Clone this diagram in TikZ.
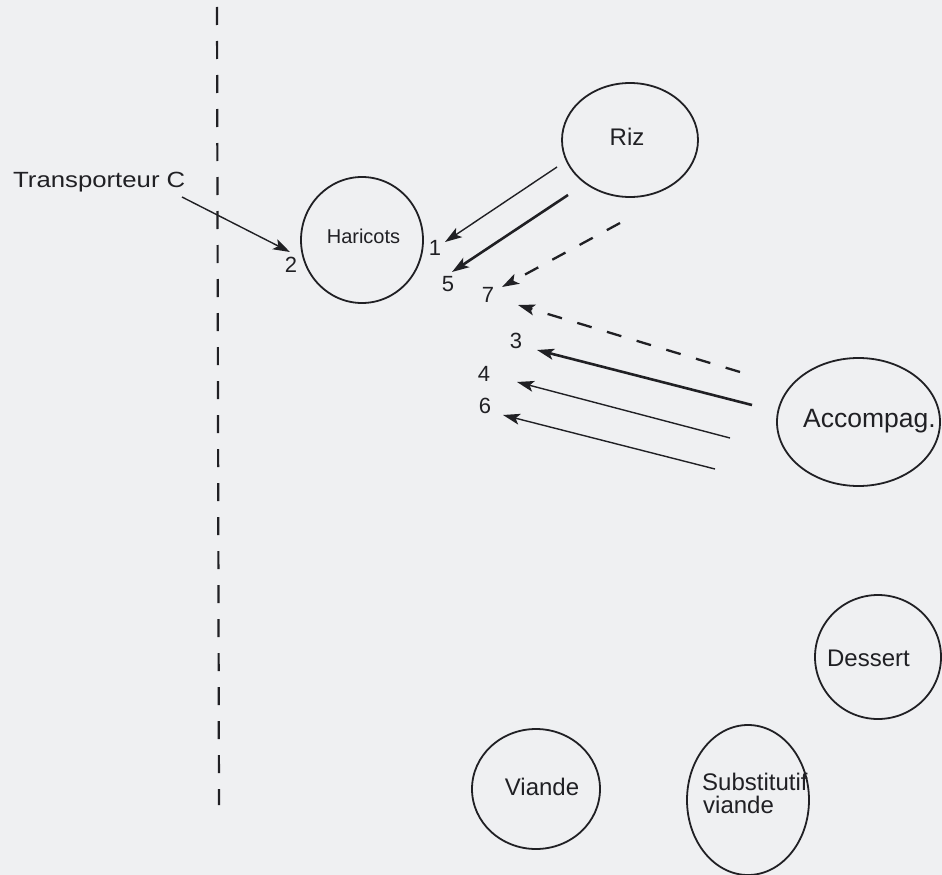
\documentclass[tikz,border=0pt]{standalone}
\usepackage{fontspec}
\setmainfont{Liberation Sans}
\usetikzlibrary{arrows.meta,shapes.geometric}
\definecolor{paper}{RGB}{239,240,242}
\definecolor{ink}{RGB}{32,32,36}
\begin{document}
\begin{tikzpicture}[x=1pt,y=-1pt,
  food/.style={draw=ink, ellipse, line width=1.8pt, inner sep=0pt},
  lbl/.style={anchor=base, text=ink, inner sep=0pt, font=\fontsize{24}{28}\selectfont},
  num/.style={text=ink, inner sep=0pt, font=\fontsize{22}{26}\selectfont},
  arrowtip/.style={-{Stealth[length=17pt,width=11pt,inset=4pt]}, draw=ink},
  thinarrow/.style={arrowtip, line width=1.4pt},
  thickarrow/.style={arrowtip, line width=2.6pt},
  dasharrow/.style={arrowtip, line width=2.3pt, dash pattern=on 15pt off 16pt},
  border/.style={draw=ink, line width=2.2pt, dash pattern=on 18pt off 16pt}
]
\fill[paper] (0,0) rectangle (942,875);
\useasboundingbox (0,0) rectangle (942,875);

% separator
\coordinate (septop) at (217,7);
\coordinate (sepbot) at (219,805);
\draw[border] (septop) -- (sepbot);

% food nodes
\node[food, minimum width=122pt, minimum height=126pt] (haricots) at (362,240) {};
\node[lbl, font=\fontsize{20}{24}\selectfont] (haricotsT) at (363.5,243) {Haricots};
\node[food, minimum width=136pt, minimum height=114pt] (riz) at (630,140) {};
\node[lbl] (rizT) at (627,145) {Riz};
\node[food, minimum width=163pt, minimum height=128pt] (accomp) at (858.5,422) {};
\node[lbl, font=\fontsize{26.5}{30}\selectfont] (accompT) at (869.5,427) {Accompag.};
\node[food, minimum width=126pt, minimum height=124pt] (dessert) at (878,657) {};
\node[lbl] (dessertT) at (868.5,666) {Dessert};
\node[food, minimum width=128pt, minimum height=120pt] (viande) at (536,789) {};
\node[lbl] (viandeT) at (542,795) {Viande};
\node[food, minimum width=122pt, minimum height=150pt] (subst) at (748,800) {};
\node[lbl, anchor=base west] (substT1) at (702,790) {Substitutif};
\node[lbl, anchor=base west] (substT2) at (703,813) {viande};

% transporteur
\node[lbl, anchor=base west, font=\fontsize{22}{26}\selectfont] (transp) at (13,187) {\scalebox{1.17}[1]{Transporteur C}};

% numbers
\node[num] (n1) at (435,248) {1};
\node[num] (n2) at (291,265) {2};
\node[num] (n5) at (448,284) {5};
\node[num] (n7) at (488,295) {7};
\node[num] (n3) at (516,341) {3};
\node[num] (n4) at (484,374) {4};
\node[num] (n6) at (485,406) {6};

% arrow ends
\coordinate (tc) at (182,197);  \coordinate (h2) at (290,252);
\coordinate (r1) at (557,167);  \coordinate (h1) at (445,242);
\coordinate (r5) at (568,195);  \coordinate (h5) at (452,272);
\coordinate (r7) at (620,223);  \coordinate (h7) at (502,287);
\coordinate (a7) at (740,372);  \coordinate (h7b) at (518,305);
\coordinate (a3) at (752,405);  \coordinate (h3) at (537,350);
\coordinate (a4) at (730,438);  \coordinate (h4) at (517,382);
\coordinate (a6) at (715,469);  \coordinate (h6) at (503,415);

\draw[thinarrow] (tc) -- (h2);
\draw[thinarrow] (r1) -- (h1);
\draw[thickarrow] (r5) -- (h5);
\draw[dasharrow] (r7) -- (h7);
\draw[dasharrow] (a7) -- (h7b);
\draw[thickarrow] (a3) -- (h3);
\draw[thinarrow] (a4) -- (h4);
\draw[thinarrow] (a6) -- (h6);
\end{tikzpicture}
\end{document}
